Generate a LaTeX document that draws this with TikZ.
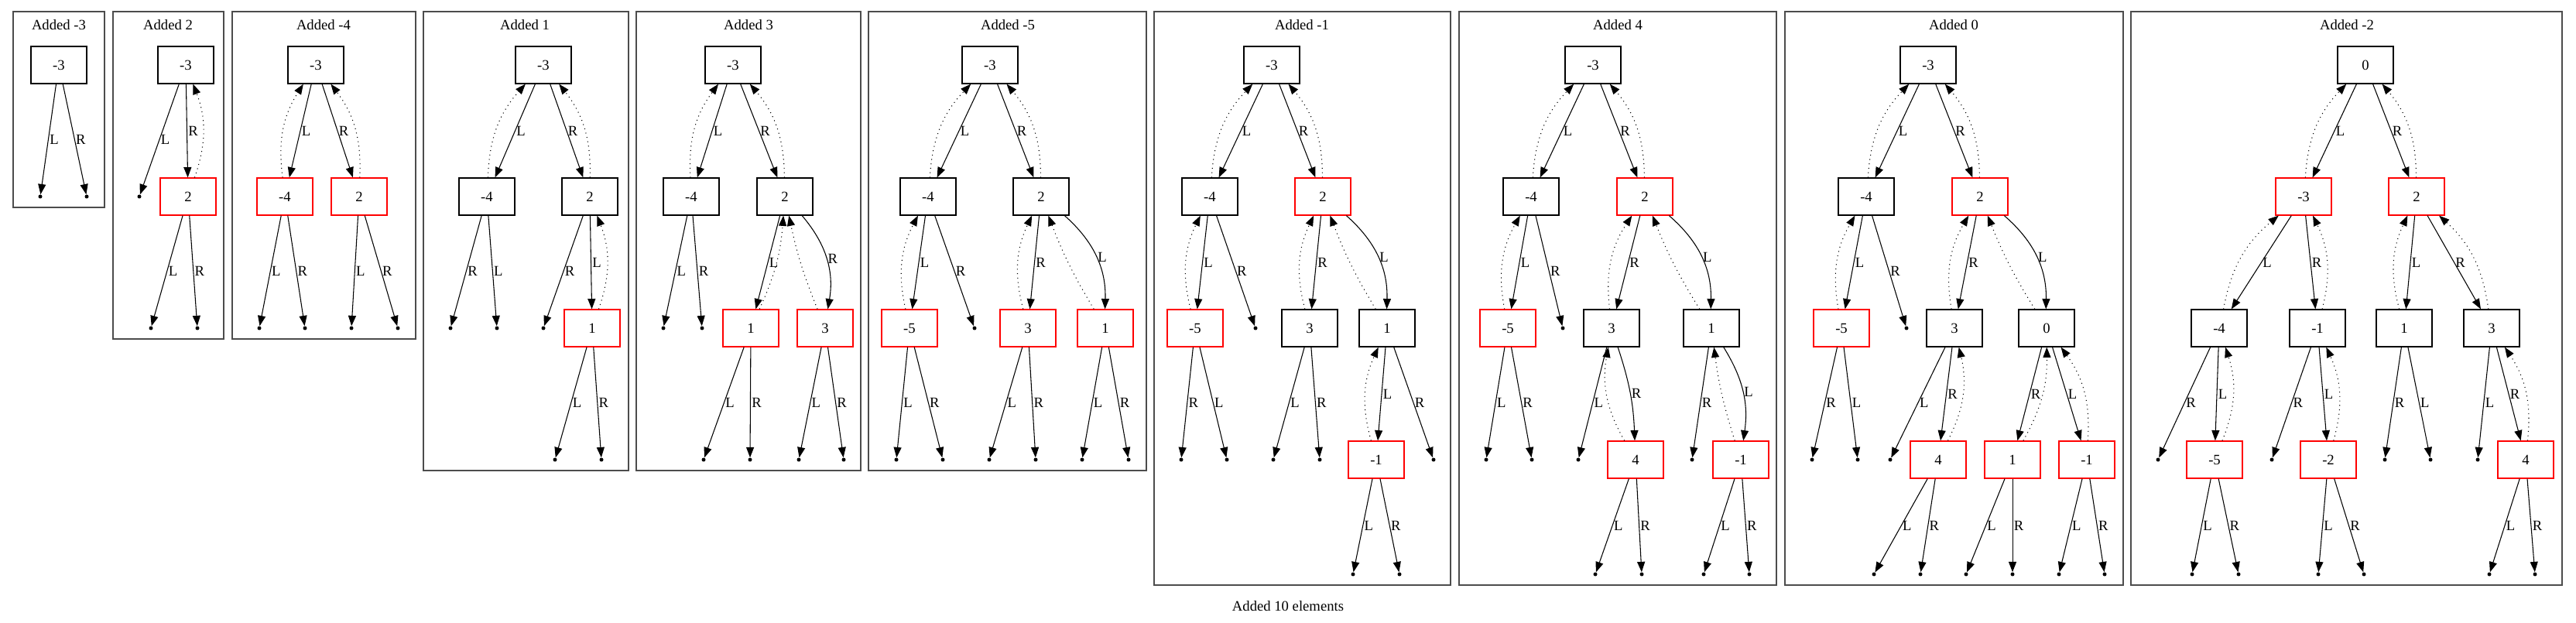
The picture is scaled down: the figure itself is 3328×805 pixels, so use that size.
\documentclass[tikz,border=0pt]{standalone}
\usepackage{fontspec}
\setmainfont{Liberation Serif}
\usetikzlibrary{arrows.meta,positioning}

\begin{document}
\begin{tikzpicture}[x=0.75pt, y=-0.75pt, font=\fontsize{14}{16}\selectfont]
\tikzstyle{treenode} = [rectangle, draw, line width=0.9pt, minimum width=54pt, minimum height=36pt, inner sep=0pt]
\tikzstyle{nil} = [circle, fill=black, inner sep=0pt, minimum size=3.75pt]
\tikzstyle{kid} = [draw, line width=0.8pt, -{Triangle[length=10pt,width=7.5pt]}]
\tikzstyle{back} = [kid, dash pattern=on 0.8pt off 3.5pt]
\tikzstyle{lab} = [midway, anchor=west, inner sep=1pt]
\tikzstyle{cluster} = [draw=black!70, line width=0.9pt]

\useasboundingbox (0,0) rectangle (3328,805);

% One frame per insertion step
\foreach \xa/\ya/\xb/\yb in {17/15/135/268, 146/15/289/438, 300/15/537/438,
  547/15/812/608, 822/15/1112/608, 1122/15/1481/608,
  1491/15/1874/756, 1885/15/2295/756, 2306/15/2743/756, 2753/15/3310/756}
  \draw[cluster] (\xa,\ya) rectangle (\xb,\yb);

% Frame titles
\foreach \n/\x/\t in {tA/76/Added -3, tB/217/Added 2, tC/418/Added -4, tD/678/Added 1,
  tE/967/Added 3, tF/1302/Added -5, tG/1682/Added -1, tH/2090/Added 4,
  tI/2524/Added 0, tJ/3032/Added -2}
  \node (\n) at (\x,32) {\t};

% Tree nodes (black or red)
\foreach \n/\x/\y/\v/\c in {
  Am3/76/84/-3/black,
  Bm3/240/84/-3/black, Bp2/243/254/2/red,
  Cm3/408/84/-3/black, Cm4/368/254/-4/red, Cp2/464/254/2/red,
  Dm3/702/84/-3/black, Dm4/629/254/-4/black, Dp2/762/254/2/black, Dp1/765/424/1/red,
  Em3/947/84/-3/black, Em4/893/254/-4/black, Ep2/1014/254/2/black, Ep1/970/424/1/red, Ep3/1066/424/3/red,
  Fm3/1279/84/-3/black, Fm4/1199/254/-4/black, Fp2/1345/254/2/black, Fm5/1175/424/-5/red, Fp3/1328/424/3/red, Fp1/1428/424/1/red,
  Gm3/1643/84/-3/black, Gm4/1563/254/-4/black, Gp2/1709/254/2/red, Gm5/1544/424/-5/red, Gp3/1692/424/3/black, Gp1/1792/424/1/black, Gm1/1778/594/-1/red,
  Hm3/2058/84/-3/black, Hm4/1978/254/-4/black, Hp2/2125/254/2/red, Hm5/1948/424/-5/red, Hp3/2082/424/3/black, Hp1/2211/424/1/black, Hp4/2113/594/4/red, Hm1/2249/594/-1/red,
  Im3/2491/84/-3/black, Im4/2411/254/-4/black, Ip2/2558/254/2/red, Im5/2379/424/-5/red, Ip3/2525/424/3/black, Ip0/2644/424/0/black, Ip4/2504/594/4/red, Ip1/2600/594/1/red, Im1/2696/594/-1/red,
  Jp0/3056/84/0/black, Jm3/2976/254/-3/red, Jp2/3122/254/2/red, Jm4/2867/424/-4/black, Jm1/2994/424/-1/black, Jp1/3106/424/1/black, Jp3/3219/424/3/black, Jm5/2861/594/-5/red, Jm2/3008/594/-2/red, Jp4/3263/594/4/red}
  \node[treenode, draw=\c] (\n) at (\x,\y) {\v};

% Child links and dotted parent links
\foreach \p/\c/\t/\s/\d in {
  Bm3/Bp2/R/0/-20,
  Cm3/Cm4/L/0/20, Cm3/Cp2/R/0/-20,
  Dm3/Dm4/L/0/20, Dm3/Dp2/R/0/-20, Dp2/Dp1/L/0/-20,
  Em3/Em4/L/0/20, Em3/Ep2/R/0/-20, Ep2/Ep1/L/0/-10, Ep2/Ep3/R/25/5,
  Fm3/Fm4/L/0/20, Fm3/Fp2/R/0/-20, Fm4/Fm5/L/0/20, Fp2/Fp3/R/0/20, Fp2/Fp1/L/25/5,
  Gm3/Gm4/L/0/20, Gm3/Gp2/R/0/-20, Gm4/Gm5/L/0/20, Gp2/Gp3/R/0/20, Gp2/Gp1/L/25/5, Gp1/Gm1/L/0/20,
  Hm3/Hm4/L/0/20, Hm3/Hp2/R/0/-20, Hm4/Hm5/L/0/20, Hp2/Hp3/R/0/20, Hp2/Hp1/L/25/5, Hp3/Hp4/R/8/20, Hp1/Hm1/L/20/5,
  Im3/Im4/L/0/20, Im3/Ip2/R/0/-20, Im4/Im5/L/0/20, Ip2/Ip3/R/0/20, Ip2/Ip0/L/25/5, Ip3/Ip4/R/0/-20, Ip0/Ip1/R/0/-15, Ip0/Im1/L/0/-20,
  Jp0/Jm3/L/0/20, Jp0/Jp2/R/0/-20, Jm3/Jm4/L/0/20, Jm3/Jm1/R/0/-20, Jp2/Jp1/L/0/20, Jp2/Jp3/R/0/-20, Jm4/Jm5/L/0/-20, Jm1/Jm2/L/0/-20, Jp3/Jp4/R/0/-20}
{
  \draw[kid] (\p) to[bend left=\s] node[lab] {\t} (\c);
  \draw[back] (\c) to[bend left=\d] (\p);
}

% Empty leaves
\foreach \p/\x/\y/\t [count=\i] in {
  Am3/52/254/L, Am3/112/254/R,
  Bm3/180/254/L, Bp2/195/424/L, Bp2/255/424/R,
  Cm4/335/424/L, Cm4/394/424/R, Cp2/454/424/L, Cp2/514/424/R,
  Dm4/582/424/R, Dm4/642/424/L, Dp2/702/424/R, Dp1/717/594/L, Dp1/777/594/R,
  Em4/857/424/L, Em4/907/424/R, Ep1/909/594/L, Ep1/969/594/R, Ep3/1032/594/L, Ep3/1090/594/R,
  Fm4/1259/424/R, Fm5/1158/594/L, Fm5/1218/594/R, Fp3/1278/594/L, Fp3/1338/594/R, Fp1/1398/594/L, Fp1/1458/594/R,
  Gm4/1622/424/R, Gm5/1526/594/R, Gm5/1585/594/L, Gp3/1645/594/L, Gp3/1705/594/R, Gp1/1852/594/R, Gm1/1748/742/L, Gm1/1808/742/R,
  Hm4/2019/424/R, Hm5/1920/594/L, Hm5/1979/594/R, Hp3/2039/594/L, Hp1/2186/594/R, Hp4/2061/742/L, Hp4/2121/742/R, Hm1/2201/742/L, Hm1/2260/742/R,
  Im4/2463/424/R, Im5/2341/594/R, Im5/2400/594/L, Ip3/2442/594/L, Ip4/2421/742/L, Ip4/2481/742/R, Ip1/2540/742/L, Ip1/2600/742/R, Im1/2660/742/L, Im1/2719/742/R,
  Jm4/2788/594/R, Jm1/2935/594/R, Jp1/3081/594/R, Jp1/3140/594/L, Jp3/3201/594/L, Jm5/2832/742/L, Jm5/2892/742/R, Jm2/2995/742/L, Jm2/3054/742/R, Jp4/3216/742/L, Jp4/3275/742/R}
{
  \node[nil] (nil\i) at (\x,\y) {};
  \draw[kid] (\p) -- node[lab] {\t} (nil\i);
}

% Caption under all frames
\node (caption) at (1664,783) {Added 10 elements};

\end{tikzpicture}
\end{document}
